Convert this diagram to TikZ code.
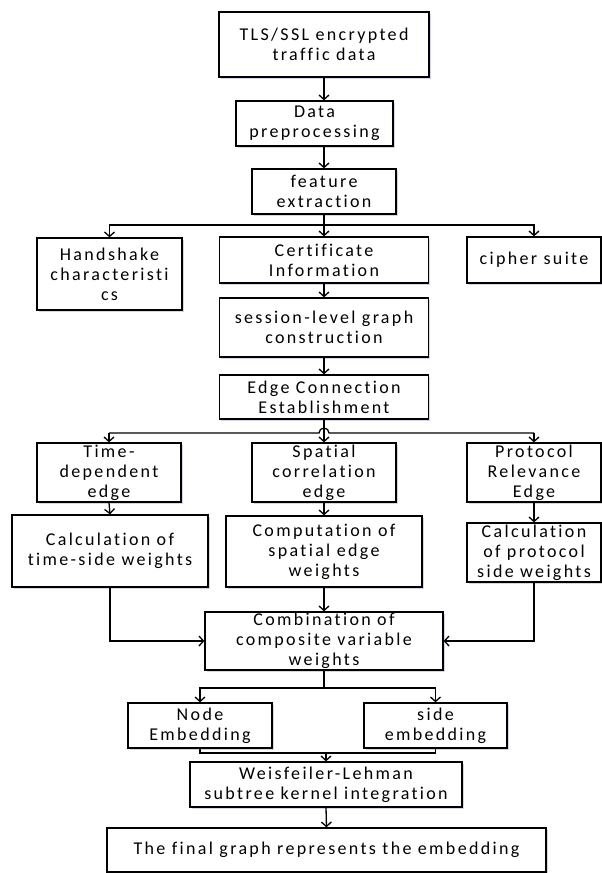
\documentclass[tikz,border=0pt]{standalone}
\usepackage{fontspec}
\setmainfont{Carlito}[LetterSpace=13, Ligatures={NoCommon}]
\usetikzlibrary{arrows.meta,shadows}

\tikzset{
	>={Straight Barb[length=4.5pt,width=10pt]},
	flowbox/.style={draw, line width=1.3pt, fill=white, align=center, inner sep=1pt,
		font=\fontsize{18}{20}\selectfont,
		drop shadow={shadow xshift=1.5pt, shadow yshift=-1.5pt, fill=blue!30!gray, opacity=0.25}},
	link/.style={line width=1.3pt},
}

\begin{document}
\begin{tikzpicture}[x=1pt,y=-1pt]
			
			\useasboundingbox (0,0) rectangle (602,873);
			
			% top chain
			\node[flowbox, minimum width=210pt, minimum height=65pt] (tls) at (324,44.5) {TLS/SSL encrypted\\traffic data};
			\node[flowbox, minimum width=157pt, minimum height=45pt] (pre) at (314.5,123.5) {Data\\preprocessing};
			\node[flowbox, minimum width=144pt, minimum height=45pt] (feat) at (324,191.5) {feature\\extraction};
			
			% features
			\node[flowbox, minimum width=145pt, minimum height=72pt] (hand) at (109.5,274) {Handshake\\characteristi\\cs};
			\node[flowbox, minimum width=209pt, minimum height=46pt] (cert) at (324,260) {Certificate\\Information};
			\node[flowbox, minimum width=134pt, minimum height=46pt] (ciph) at (534,260) {cipher suite};
			
			% graph construction
			\node[flowbox, minimum width=209pt, minimum height=59pt] (sess) at (324,327.5) {session-level graph\\construction};
			\node[flowbox, minimum width=209pt, minimum height=44pt] (edge) at (324,397) {Edge Connection\\Establishment};
			
			% edge types
			\node[flowbox, minimum width=144pt, minimum height=59pt] (tdep) at (109,472.5) {Time-\\dependent\\edge};
			\node[flowbox, minimum width=144pt, minimum height=59pt] (spat) at (324,472.5) {Spatial\\correlation\\edge};
			\node[flowbox, minimum width=134pt, minimum height=59pt] (prot) at (534,472.5) {Protocol\\Relevance\\Edge};
			
			% edge weights
			\node[flowbox, minimum width=196pt, minimum height=72pt] (ctime) at (110,551) {Calculation of\\time-side weights};
			\node[flowbox, minimum width=196pt, minimum height=71pt] (cspat) at (324,551.5) {Computation of\\spatial edge\\weights};
			\node[flowbox, minimum width=134pt, minimum height=59pt] (cprot) at (534,552.5) {Calculation\\of protocol\\side weights};
			\node[flowbox, minimum width=238pt, minimum height=58pt] (comb) at (324,641) {Combination of\\composite variable\\weights};
			
			% embeddings
			\node[flowbox, minimum width=144pt, minimum height=45pt] (nodeemb) at (200,725.5) {Node\\Embedding};
			\node[flowbox, minimum width=143pt, minimum height=45pt] (sideemb) at (435.5,725.5) {side\\embedding};
			\node[flowbox, minimum width=272pt, minimum height=45pt] (wl) at (326,784.5) {Weisfeiler-Lehman\\subtree kernel integration};
			\node[flowbox, minimum width=439pt, minimum height=44pt] (fin) at (326.5,850) {The final graph represents the embedding};
			
			% branch points
			\coordinate (fork1) at (324,225);
			\coordinate (fork2) at (324,433);
			\coordinate (fork3) at (324,688);
			\coordinate (join1) at (326,753);
			
			% arrows along the spine
			\draw[link,->] (tls.south) -- (tls.south |- pre.north);
			\draw[link,->] (feat.north |- pre.south) -- (feat.north);
			\draw[link,->] (feat.south) -- (cert.north);
			\draw[link,->] (cert.south) -- (sess.north);
			\draw[link,->] (sess.south) -- (edge.north);
			\draw[link,->] (edge.south) -- (spat.north);
			
			% side branches
			\draw[link,->] (fork1) -| (hand.north);
			\draw[link,->] (fork1) -| (ciph.north);
			\draw[link] (tdep.north |- fork2) -- ([xshift=-5pt]fork2) arc[start angle=180, end angle=0, radius=5pt] -- (prot.north |- fork2);
			\draw[link,->] (tdep.north |- fork2) -- (tdep.north);
			\draw[link,->] (prot.north |- fork2) -- (prot.north);
			
			% weights
			\draw[link,->] (tdep.south) -- (ctime.north);
			\draw[link,->] (spat.south) -- (cspat.north);
			\draw[link,->] (prot.south) -- (cprot.north);
			\draw[link,->] (ctime.south) |- (comb.west);
			\draw[link,->] (cprot.south) |- (comb.east);
			\draw[link,->] (cspat.south) -- (comb.north);
			
			% embeddings
			\draw[link] (comb.south) -- (fork3);
			\draw[link,->] (fork3) -| (nodeemb.north);
			\draw[link,->] (fork3) -| (sideemb.north);
			\draw[link] (nodeemb.south) |- (join1) -| (sideemb.south);
			\draw[link,->] (join1) -- (wl.north);
			\draw[link,->] (wl.south) -- (fin.north);
			
		\end{tikzpicture}
\end{document}
